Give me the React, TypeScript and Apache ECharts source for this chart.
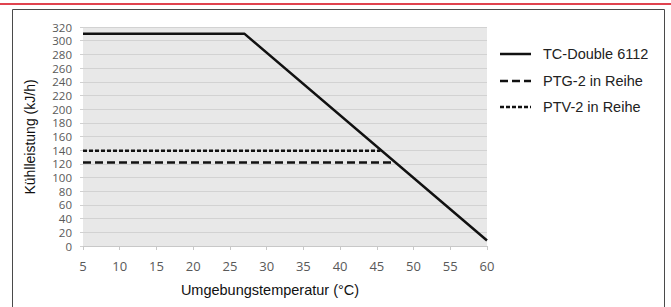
import React, { useEffect, useRef } from "react";
import * as echarts from "echarts";

const seriesNames = ["TC-Double 6112", "PTG-2 in Reihe", "PTV-2 in Reihe"];
const tcDouble: [number, number][] = [[5, 310], [27, 310], [60, 8]];
const ptg: [number, number][] = [[5, 122], [47, 122]];
const ptv: [number, number][] = [[5, 139], [45.5, 139]];
const xTicks = { min: 5, max: 60, interval: 5 };
const yTicks = { min: 0, max: 320, interval: 20 };
const xTitle = "Umgebungstemperatur (°C)";
const yTitle = "Kühlleistung (kJ/h)";

const dashes: number[][] = [[], [8, 4], [4, 2]];
const legendRowsY = [54, 81, 107];

export default function App() {
  const ref = useRef<HTMLDivElement>(null);
  useEffect(() => {
    document.body.style.margin = "0";
    const chart = echarts.init(ref.current!, null, { renderer: "svg" });
    const tickFont = "'Open Sans', sans-serif";
    const titleFont = "'Liberation Sans', Arial, sans-serif";
    const legendGraphics: any[] = [];
    seriesNames.forEach((name, i) => {
      legendGraphics.push({
        type: "line",
        shape: { x1: 500, y1: legendRowsY[i], x2: 531, y2: legendRowsY[i] },
        style: { stroke: "#111", lineWidth: 2.5, lineDash: dashes[i].length ? dashes[i] : null },
      });
      legendGraphics.push({
        type: "text",
        x: 543,
        y: legendRowsY[i],
        style: { text: name, fontFamily: titleFont, fontSize: 14.5, fill: "#222", verticalAlign: "middle" },
      });
    });
    chart.setOption({
      animation: false,
      backgroundColor: "#ffffff",
      grid: { left: 83, right: 184, top: 27, bottom: 61, show: true, backgroundColor: "#e8e8e8", borderWidth: 0 },
      xAxis: {
        type: "value",
        min: xTicks.min,
        max: xTicks.max,
        interval: xTicks.interval,
        axisLine: { show: true, lineStyle: { color: "#c8c8c8", width: 1 } },
        axisTick: { show: true, length: 4, lineStyle: { color: "#c8c8c8" } },
        splitLine: { show: false },
        axisLabel: { color: "#595959", fontFamily: tickFont, fontSize: 13, margin: 13 },
      },
      yAxis: {
        type: "value",
        min: yTicks.min,
        max: yTicks.max,
        interval: yTicks.interval,
        axisLine: { show: false },
        axisTick: { show: true, length: 3, lineStyle: { color: "#d0d0d0" } },
        splitLine: { show: true, lineStyle: { color: "#d2d2d2", width: 1 } },
        axisLabel: { color: "#595959", fontFamily: tickFont, fontSize: 11.5, margin: 11, lineHeight: 12 },
      },
      graphic: [
        { type: "rect", shape: { x: 0, y: 3, width: 671, height: 2 }, style: { fill: "#e0434f" } },
        { type: "rect", shape: { x: 12.5, y: 9.5, width: 652, height: 310 }, style: { fill: "none", stroke: "#4a4a4a", lineWidth: 1 } },
        {
          type: "text",
          x: 270,
          y: 290,
          style: { text: xTitle, fontFamily: titleFont, fontSize: 14.5, fill: "#111", align: "center", verticalAlign: "middle" },
        },
        {
          type: "text",
          x: 30,
          y: 137,
          rotation: Math.PI / 2,
          style: { text: yTitle, fontFamily: titleFont, fontSize: 14, fill: "#111", align: "center", verticalAlign: "middle" },
        },
        ...legendGraphics,
      ],
      series: [
        {
          name: seriesNames[0],
          type: "line",
          data: tcDouble,
          symbol: "none",
          lineStyle: { color: "#111", width: 2.5, type: "solid" },
        },
        {
          name: seriesNames[1],
          type: "line",
          data: ptg,
          symbol: "none",
          lineStyle: { color: "#111", width: 2.5, type: dashes[1] },
        },
        {
          name: seriesNames[2],
          type: "line",
          data: ptv,
          symbol: "none",
          lineStyle: { color: "#111", width: 2.5, type: dashes[2] },
        },
      ],
    });
    return () => chart.dispose();
  }, []);
  return <div ref={ref} style={{ width: 671, height: 307 }} />;
}
